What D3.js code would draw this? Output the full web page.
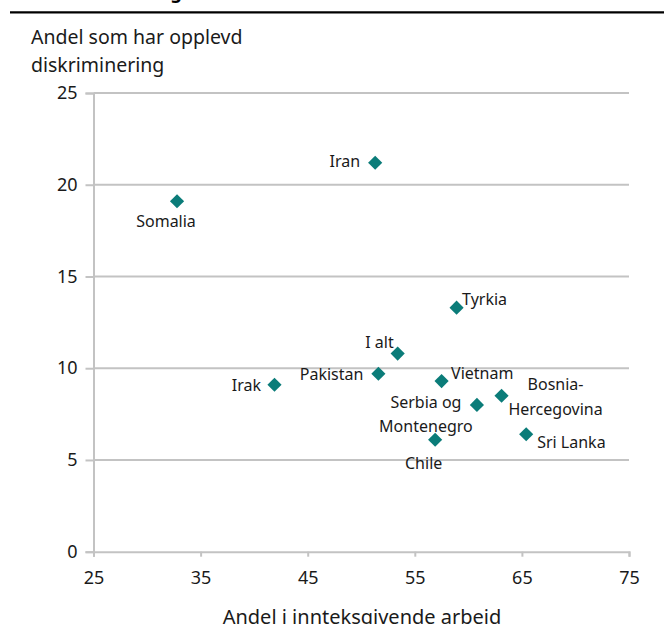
<!DOCTYPE html>
<html>
<head>
<meta charset="utf-8">
<script src="https://cdn.jsdelivr.net/npm/d3@7/dist/d3.min.js"></script>
<style>
  html, body { margin: 0; padding: 0; background: #fff; }
  svg { display: block; font-family: "Noto Sans", "Open Sans", sans-serif; }
</style>
</head>
<body>
<script>
// Data: share in income-generating work (x) vs share reporting discrimination (y)
const countries = ["Somalia", "Iran", "Irak", "Tyrkia", "I alt", "Pakistan", "Vietnam",
                   "Serbia og Montenegro", "Bosnia-Hercegovina", "Chile", "Sri Lanka"];
const workShare = [32.8, 51.3, 41.9, 58.9, 53.4, 51.6, 57.5, 60.8, 63.1, 56.9, 65.4];
const discrimShare = [19.1, 21.2, 9.1, 13.3, 10.8, 9.7, 9.3, 8.0, 8.5, 6.1, 6.4];
const xTicks = [25, 35, 45, 55, 65, 75];
const yTicks = [0, 5, 10, 15, 20, 25];
const yTitleLines = ["Andel som har opplevd", "diskriminering"];
const xTitle = "Andel i innteksgivende arbeid";

const W = 664, H = 624;
const svg = d3.select("body").append("svg").attr("width", W).attr("height", H);

// Header rule with the tail of the heading above it
svg.append("text").attr("x", 182).attr("y", -1).attr("text-anchor", "end")
  .attr("font-weight", "bold").attr("font-size", 18).attr("fill", "#000")
  .text("Diskriminering");
svg.append("line").attr("x1", 10).attr("x2", W).attr("y1", 12.3).attr("y2", 12.3)
  .attr("stroke", "#000").attr("stroke-width", 2.2);

const x = d3.scaleLinear().domain([25, 75]).range([93.5, 629]);
const y = d3.scaleLinear().domain([0, 25]).range([551.7, 93]);

const grey = "#c3c3c3";

// Horizontal gridlines
svg.append("g").selectAll("line").data(yTicks.filter(d => d > 0)).join("line")
  .attr("x1", x(25)).attr("x2", x(75))
  .attr("y1", d => y(d)).attr("y2", d => y(d))
  .attr("stroke", grey).attr("stroke-width", 2);

// Y axis
const yAxis = svg.append("g").attr("transform", `translate(${x(25)},0)`)
  .call(d3.axisLeft(y).tickValues(yTicks).tickSize(8).tickPadding(8));
// X axis
const xAxis = svg.append("g").attr("transform", `translate(0,${y(0)})`)
  .call(d3.axisBottom(x).tickValues(xTicks).tickSize(5).tickPadding(15));

[yAxis, xAxis].forEach(g => {
  g.select(".domain").attr("stroke", grey).attr("stroke-width", 2);
  g.selectAll(".tick line").attr("stroke", grey).attr("stroke-width", 2);
  g.selectAll(".tick text").attr("font-size", 18).attr("fill", "#1a1a1a")
    .attr("font-family", "'Noto Sans', sans-serif");
});

// Axis titles
svg.append("text").attr("x", 31).attr("y", 43.5).attr("font-size", 19.5).attr("fill", "#1a1a1a")
  .selectAll("tspan").data(yTitleLines).join("tspan")
  .attr("x", 31).attr("dy", (d, i) => i === 0 ? 0 : 28).text(d => d);
svg.append("text").attr("x", 362).attr("y", 624).attr("text-anchor", "middle")
  .attr("font-size", 20).attr("fill", "#1a1a1a").text(xTitle);

// Points
const pts = countries.map((c, i) => ({ name: c, wx: workShare[i], dy: discrimShare[i] }));
const diamond = d3.symbol().type(d3.symbolDiamond2).size(128);
svg.append("g").selectAll("path").data(pts).join("path")
  .attr("d", diamond)
  .attr("transform", d => `translate(${x(d.wx)},${y(d.dy)})`)
  .attr("fill", "#0b7c79");

// Label placement relative to each point: anchor, x offset, baseline offsets per line
const labelLayout = {
  "Somalia": { a: "middle", dx: -11, lines: [["Somalia", 26]] },
  "Iran": { a: "end", dx: -15, lines: [["Iran", 4]] },
  "Irak": { a: "end", dx: -13.5, lines: [["Irak", 6]] },
  "Tyrkia": { a: "start", dx: 5.5, lines: [["Tyrkia", -2.5]] },
  "I alt": { a: "end", dx: -4, lines: [["I alt", -6]] },
  "Pakistan": { a: "end", dx: -15, lines: [["Pakistan", 6.5]] },
  "Vietnam": { a: "start", dx: 9.5, lines: [["Vietnam", -2.5]] },
  "Serbia og Montenegro": { a: "middle", dx: -51, lines: [["Serbia og", 3], ["Montenegro", 27]] },
  "Bosnia-Hercegovina": { a: "middle", dx: 54, lines: [["Bosnia-", -5.5], ["Hercegovina", 19.5]] },
  "Chile": { a: "middle", dx: -11.5, lines: [["Chile", 29.5]] },
  "Sri Lanka": { a: "start", dx: 11, lines: [["Sri Lanka", 13.5]] }
};

const labels = svg.append("g").attr("font-size", 16).attr("fill", "#1a1a1a");
pts.forEach(p => {
  const L = labelLayout[p.name];
  const t = labels.append("text").attr("text-anchor", L.a);
  L.lines.forEach(([txt, off]) => {
    t.append("tspan").attr("x", x(p.wx) + L.dx).attr("y", y(p.dy) + off).text(txt);
  });
});
</script>
</body>
</html>
